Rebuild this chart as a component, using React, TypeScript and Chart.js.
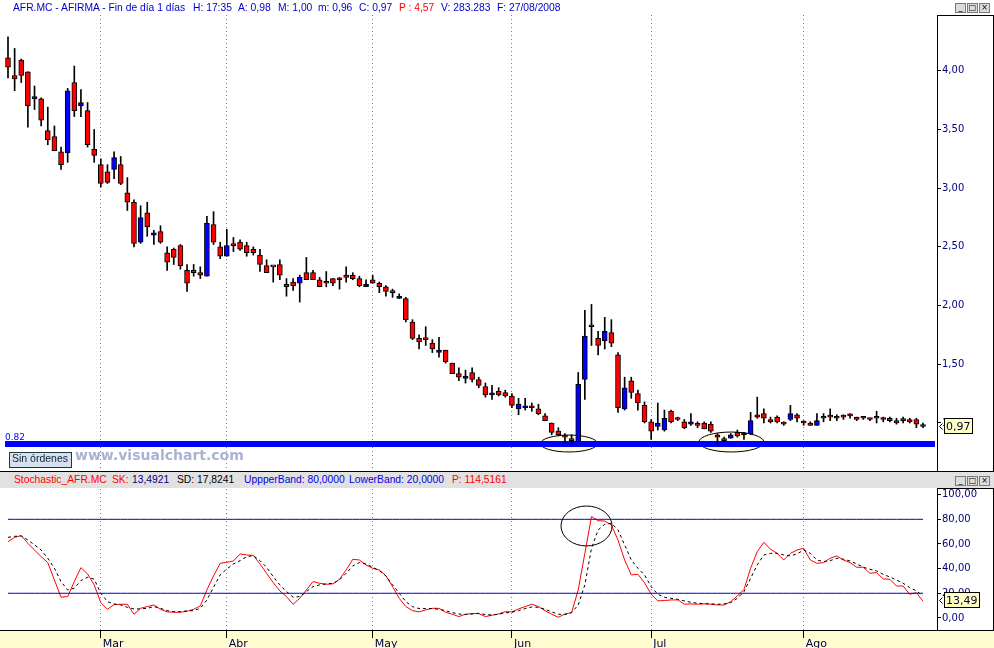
import React, { useEffect, useRef } from 'react';
import { Chart, registerables } from 'chart.js';

Chart.register(...registerables);

// ---- Daily candles AFR.MC (index 0 = first bar shown, mid-February 2008) ----
const opens = [
  4.11, 3.96, 4.09, 3.99, 3.76, 3.76, 3.49, 3.44, 3.31, 3.30,
  3.90, 3.70, 3.66, 3.33, 3.20, 3.14, 3.16, 3.20, 2.96, 2.88,
  2.54, 2.79, 2.60, 2.63, 2.45, 2.48, 2.51, 2.30, 2.30, 2.28,
  2.25, 2.69, 2.50, 2.42, 2.51, 2.54, 2.51, 2.48, 2.43, 2.34,
  2.33, 2.35, 2.18, 2.20, 2.19, 2.28, 2.28, 2.22, 2.19, 2.23,
  2.22, 2.26, 2.26, 2.23, 2.16, 2.22, 2.19, 2.16, 2.11, 2.06,
  2.06, 1.86, 1.72, 1.71, 1.68, 1.60, 1.62, 1.51, 1.42, 1.38,
  1.43, 1.37, 1.31, 1.24, 1.27, 1.26, 1.23, 1.12, 1.13, 1.13,
  1.12, 1.06, 1.00, 0.93, 0.88, 0.85, 0.84, 1.37, 1.82, 1.72,
  1.70, 1.77, 1.58, 1.12, 1.36, 1.25, 1.15, 1.01, 0.97, 0.94,
  1.10, 1.03, 1.01, 0.99, 0.98, 1.00, 0.99, 0.90, 0.85, 0.87,
  0.92, 0.90, 0.91, 1.07, 1.08, 1.03, 1.05, 0.99, 1.03, 1.07,
  1.00, 1.00, 0.98, 1.04, 1.05, 1.04, 1.05, 1.06, 1.05, 1.04,
  1.03, 1.04, 1.03, 1.04, 1.02, 1.02, 1.03, 1.03, 0.98,
];
const highs = [
  4.29, 4.19, 4.10, 3.99, 3.87, 3.77, 3.69, 3.53, 3.35, 3.85,
  4.04, 3.84, 3.73, 3.50, 3.25, 3.20, 3.31, 3.27, 3.09, 2.90,
  2.85, 2.88, 2.64, 2.68, 2.50, 2.49, 2.52, 2.35, 2.35, 2.33,
  2.76, 2.80, 2.54, 2.65, 2.58, 2.56, 2.54, 2.50, 2.48, 2.39,
  2.33, 2.39, 2.23, 2.23, 2.26, 2.41, 2.30, 2.24, 2.29, 2.23,
  2.24, 2.33, 2.28, 2.25, 2.22, 2.26, 2.20, 2.17, 2.14, 2.10,
  2.07, 1.88, 1.75, 1.82, 1.71, 1.73, 1.62, 1.51, 1.47, 1.45,
  1.47, 1.39, 1.34, 1.32, 1.30, 1.28, 1.25, 1.21, 1.21, 1.17,
  1.16, 1.08, 1.00, 0.96, 0.91, 0.90, 1.43, 1.96, 2.01, 1.78,
  1.90, 1.88, 1.60, 1.39, 1.39, 1.28, 1.18, 1.03, 1.17, 1.11,
  1.11, 1.05, 1.03, 1.08, 1.01, 1.01, 1.01, 0.91, 0.88, 0.91,
  0.94, 0.92, 1.09, 1.22, 1.12, 1.05, 1.06, 1.01, 1.15, 1.08,
  1.02, 1.01, 1.08, 1.08, 1.12, 1.07, 1.07, 1.08, 1.05, 1.05,
  1.04, 1.10, 1.05, 1.05, 1.04, 1.05, 1.04, 1.04, 1.00,
];
const lows = [
  3.94, 3.83, 3.90, 3.52, 3.67, 3.53, 3.37, 3.32, 3.16, 3.22,
  3.61, 3.61, 3.35, 3.22, 3.01, 3.04, 3.08, 3.03, 2.81, 2.50,
  2.53, 2.59, 2.52, 2.53, 2.30, 2.35, 2.31, 2.12, 2.25, 2.23,
  2.25, 2.52, 2.40, 2.42, 2.46, 2.47, 2.42, 2.43, 2.29, 2.28,
  2.20, 2.22, 2.08, 2.13, 2.03, 2.22, 2.22, 2.16, 2.16, 2.17,
  2.14, 2.20, 2.22, 2.16, 2.16, 2.19, 2.11, 2.08, 2.07, 2.06,
  1.86, 1.71, 1.63, 1.66, 1.60, 1.56, 1.51, 1.42, 1.36, 1.34,
  1.35, 1.30, 1.22, 1.20, 1.23, 1.22, 1.13, 1.07, 1.11, 1.10,
  1.07, 1.02, 0.90, 0.89, 0.83, 0.82, 0.84, 1.20, 1.66, 1.58,
  1.63, 1.65, 1.09, 1.11, 1.21, 1.11, 1.00, 0.86, 0.94, 0.93,
  1.00, 1.02, 0.95, 0.98, 0.96, 0.95, 0.92, 0.82, 0.84, 0.87,
  0.88, 0.86, 0.90, 1.04, 1.00, 1.00, 1.00, 0.98, 1.02, 1.01,
  0.98, 0.98, 0.98, 1.01, 1.02, 1.02, 1.03, 1.04, 1.02, 1.03,
  1.02, 1.00, 1.01, 1.01, 0.99, 1.00, 1.00, 0.96, 0.96,
];
const closes = [
  4.03, 3.93, 3.96, 3.70, 3.78, 3.58, 3.41, 3.32, 3.20, 3.83,
  3.66, 3.73, 3.37, 3.28, 3.04, 3.05, 3.26, 3.04, 2.88, 2.53,
  2.75, 2.67, 2.62, 2.54, 2.37, 2.41, 2.34, 2.19, 2.28, 2.26,
  2.70, 2.54, 2.42, 2.51, 2.51, 2.48, 2.45, 2.45, 2.35, 2.28,
  2.33, 2.26, 2.16, 2.17, 2.24, 2.22, 2.22, 2.16, 2.19, 2.19,
  2.22, 2.24, 2.23, 2.17, 2.18, 2.19, 2.16, 2.12, 2.11, 2.08,
  1.88, 1.72, 1.69, 1.71, 1.63, 1.62, 1.52, 1.42, 1.39, 1.40,
  1.37, 1.32, 1.24, 1.25, 1.24, 1.23, 1.15, 1.16, 1.14, 1.13,
  1.08, 1.02, 0.92, 0.90, 0.88, 0.85, 1.33, 1.74, 1.82, 1.66,
  1.78, 1.68, 1.13, 1.30, 1.26, 1.17, 1.01, 0.93, 1.00, 1.04,
  1.01, 1.03, 0.96, 1.01, 0.98, 0.95, 0.93, 0.88, 0.85, 0.90,
  0.89, 0.91, 1.02, 1.05, 1.04, 1.01, 1.01, 0.99, 1.08, 1.04,
  1.00, 0.98, 1.02, 1.04, 1.05, 1.04, 1.05, 1.06, 1.03, 1.04,
  1.03, 1.04, 1.03, 1.02, 1.00, 1.02, 1.01, 0.99, 0.97,
];

// ---- Stochastic (SK red, SD black dashed) ----
const stochK = [
  61.9, 65.4, 66.8, 60.5, 55.1, 49.7, 44.9, 30.8, 16.8, 17.3,
  29.5, 40.8, 35.7, 26.8, 12.4, 7.0, 10.8, 11.1, 11.1, 3.0,
  7.8, 9.2, 10.5, 7.0, 4.9, 4.6, 4.6, 5.4, 7.0, 9.7,
  22.7, 34.1, 44.3, 45.1, 46.2, 51.9, 51.1, 50.8, 43.8, 36.2,
  28.6, 21.9, 17.3, 11.1, 15.9, 22.7, 29.5, 28.1, 27.3, 27.6,
  31.4, 38.9, 47.6, 47.0, 43.0, 40.3, 38.9, 34.1, 25.4, 15.9,
  9.2, 5.9, 4.9, 6.5, 7.8, 7.8, 4.6, 3.0, 1.1, 3.0,
  3.5, 3.5, 1.1, 2.2, 3.2, 5.1, 4.9, 7.3, 9.2, 11.1,
  9.2, 5.9, 3.0, 0.5, 3.2, 4.3, 22.7, 52.4, 82.2, 78.9,
  78.6, 75.4, 63.2, 47.0, 34.9, 35.4, 28.6, 19.2, 13.8, 14.1,
  14.6, 14.6, 11.1, 11.4, 11.1, 11.4, 11.1, 10.5, 10.5, 13.2,
  17.8, 23.2, 40.3, 53.8, 61.4, 55.7, 52.4, 47.0, 52.4, 55.1,
  56.5, 47.0, 44.3, 44.9, 48.4, 50.3, 47.0, 44.9, 41.1, 41.1,
  36.2, 36.8, 31.6, 31.4, 25.9, 25.9, 19.2, 20.5, 13.49,
];
const stochD = [
  65.4, 66.2, 66.5, 63.2, 59.2, 55.1, 48.4, 40.3, 29.5, 22.7,
  24.1, 30.3, 33.0, 31.4, 20.0, 13.2, 11.4, 10.5, 8.6, 7.3,
  7.3, 7.8, 9.2, 7.8, 5.9, 5.1, 5.1, 5.7, 5.9, 7.8,
  14.6, 24.9, 34.9, 39.7, 43.8, 46.5, 49.7, 50.5, 46.5, 41.1,
  33.5, 26.8, 21.4, 16.8, 17.3, 21.4, 25.4, 26.8, 27.6, 28.1,
  30.8, 36.2, 42.2, 44.9, 43.8, 41.1, 38.4, 34.1, 26.8, 20.0,
  13.2, 9.2, 7.6, 7.6, 7.6, 7.0, 5.9, 4.3, 3.2, 2.7,
  3.2, 3.8, 2.7, 2.4, 3.0, 4.1, 4.6, 5.9, 7.6, 8.9,
  8.6, 7.0, 4.9, 3.0, 2.7, 4.3, 10.5, 26.8, 56.5, 71.4,
  76.0, 76.8, 71.4, 59.2, 47.0, 40.3, 34.9, 25.4, 19.2, 16.8,
  15.9, 15.1, 13.8, 12.7, 11.9, 11.6, 11.4, 11.1, 11.4, 12.4,
  15.9, 21.4, 32.2, 43.0, 51.1, 52.4, 52.4, 51.1, 50.3, 51.9,
  55.1, 52.4, 47.0, 45.7, 46.5, 48.4, 47.6, 46.2, 43.8, 41.1,
  39.5, 38.1, 35.4, 33.2, 30.8, 28.1, 24.6, 21.9, 17.82,
];

const priceTicks = [1.0, 1.5, 2.0, 2.5, 3.0, 3.5, 4.0];
const stochTicks = [0, 20, 40, 60, 80, 100];
const monthStartIndex = [14, 33, 55, 76, 97, 120];
const monthLabels = ['Mar', 'Abr', 'May', 'Jun', 'Jul', 'Ago'];
const supportLevel = 0.82;
const supportFrom = -0.45;
const supportTo = 139.8;
const upperBand = 80;
const lowerBand = 20;

// annotation ellipses, in data units (index, value)
const priceCircles = [
  { x: 84.6, y: 0.825, rx: 4.3, ry: 0.072 },
  { x: 109.1, y: 0.838, rx: 4.9, ry: 0.085 },
];
const stochCircles = [{ x: 87.25, y: 74.6, rx: 3.85, ry: 16.2 }];

const fmt2 = (v: number) => Number(v).toFixed(2).replace('.', ',');

const X_MIN = -1.2066;
const X_MAX = 140.11;

const ellipsePlugin = (id: string, shapes: any[], fill: string | null, stage: string) => ({
  id,
  [stage](chart: any) {
    const { ctx, scales } = chart;
    const x = scales.x, y = scales.y;
    ctx.save();
    shapes.forEach((s) => {
      const cx = x.getPixelForValue(s.x);
      const cy = y.getPixelForValue(s.y);
      const rx = Math.abs(x.getPixelForValue(s.x + s.rx) - cx);
      const ry = Math.abs(y.getPixelForValue(s.y + s.ry) - cy);
      ctx.beginPath();
      ctx.ellipse(cx, cy, rx, ry, 0, 0, Math.PI * 2);
      if (fill) {
        ctx.fillStyle = fill;
        ctx.fill();
      }
      ctx.lineWidth = 1;
      ctx.strokeStyle = '#000000';
      ctx.stroke();
    });
    ctx.restore();
  },
});

const supportLabelPlugin = {
  id: 'supportLabel',
  afterDatasetsDraw(chart: any) {
    const { ctx, scales, chartArea } = chart;
    const py = scales.y.getPixelForValue(supportLevel);
    ctx.save();
    ctx.font = '9px "DejaVu Sans"';
    ctx.fillStyle = '#0000ff';
    ctx.textBaseline = 'alphabetic';
    ctx.fillText(supportLevel.toFixed(2), chartArea.left + 5, py - 4);
    ctx.restore();
  },
};

const lastValuePlugin = (id: string, value: number, text: string) => ({
  id,
  afterDraw(chart: any) {
    const { ctx, scales, chartArea } = chart;
    const py = Math.round(scales.y.getPixelForValue(value));
    const x0 = Math.round(chartArea.right) + 7;
    ctx.save();
    ctx.font = '11px "DejaVu Sans"';
    const w = Math.ceil(ctx.measureText(text).width) + 4;
    ctx.fillStyle = '#ffffc0';
    ctx.fillRect(x0, py - 9, w, 16);
    ctx.strokeStyle = '#000000';
    ctx.lineWidth = 1;
    ctx.strokeRect(x0 + 0.5, py - 8.5, w - 1, 15);
    ctx.fillStyle = '#000040';
    ctx.textBaseline = 'middle';
    ctx.fillText(text, x0 + 2, py);
    ctx.beginPath();
    ctx.moveTo(x0 - 1.5, py - 3.5);
    ctx.lineTo(x0 - 4.5, py - 0.5);
    ctx.lineTo(x0 - 1.5, py + 2.5);
    ctx.stroke();
    ctx.restore();
  },
});

const yellowBandPlugin = {
  id: 'yellowBand',
  beforeDraw(chart: any) {
    const { ctx, chartArea, width, height } = chart;
    ctx.save();
    ctx.fillStyle = '#fffcd2';
    ctx.fillRect(0, chartArea.bottom, width, height - chartArea.bottom);
    ctx.restore();
  },
};

const HDR_FONT = '"Liberation Sans", Arial, sans-serif';

function Txt({ left, top, color, children, size = 10.3, weight = 400, family = HDR_FONT }: any) {
  return (
    <span
      style={{
        position: 'absolute', left, top, color, whiteSpace: 'pre',
        fontFamily: family, fontSize: size, fontWeight: weight, lineHeight: 'normal',
      }}
    >
      {children}
    </span>
  );
}

function WinButtons({ top }: any) {
  const box = (left: number, glyph: string) => (
    <div
      style={{
        position: 'absolute', left, top, width: 11, height: 10, boxSizing: 'border-box',
        border: '1px solid #7a7a7a', background: '#dcdcdc', color: '#000',
        fontFamily: 'DejaVu Sans', fontSize: 8, lineHeight: '7px', textAlign: 'center', overflow: 'hidden',
      }}
    >
      {glyph}
    </div>
  );
  return (
    <>
      {box(955, '_')}
      {box(967, '□')}
      {box(979, '×')}
    </>
  );
}

export default function App() {
  const topRef = useRef<HTMLCanvasElement>(null);
  const botRef = useRef<HTMLCanvasElement>(null);

  useEffect(() => {
    const idx = opens.map((_, i) => i);
    const bodyColors = idx.map((i) => (closes[i] > opens[i] ? '#0000ff' : '#ff0000'));
    const axisFont = { family: 'DejaVu Sans', size: 10 };

    const top = new Chart(topRef.current as HTMLCanvasElement, {
      type: 'bar',
      data: {
        datasets: [
          {
            type: 'line',
            data: [{ x: supportFrom, y: supportLevel }, { x: supportTo, y: supportLevel }],
            borderColor: '#0000ff', borderWidth: 6, pointRadius: 0, borderCapStyle: 'butt', order: 3,
          },
          {
            type: 'bar',
            data: idx.map((i) => ({ x: i, y: [lows[i], highs[i]] })),
            backgroundColor: '#000000', borderWidth: 0, barThickness: 1, grouped: false, order: 2,
          },
          {
            type: 'bar',
            data: idx.map((i) => ({ x: i, y: [opens[i], closes[i]] })),
            backgroundColor: bodyColors, borderColor: '#000000', borderWidth: 1, borderSkipped: false,
            barThickness: 5, minBarLength: 2, grouped: false, order: 1,
          },
        ] as any,
      },
      options: {
        animation: false, responsive: false, events: [],
        layout: { padding: { top: 15, bottom: 1, left: 0, right: 0 } },
        plugins: { legend: { display: false }, tooltip: { enabled: false } },
        scales: {
          x: {
            type: 'linear', min: X_MIN, max: X_MAX, offset: false,
            afterBuildTicks: (s: any) => { s.ticks = monthStartIndex.map((v) => ({ value: v })); },
            afterFit: (s: any) => { s.height = 0; s.paddingLeft = 0; s.paddingRight = 0; },
            ticks: { display: false },
            grid: { offset: false, drawTicks: false, color: '#808080', lineWidth: 1 },
            border: { display: false, dash: [1, 3] },
          },
          y: {
            position: 'right', min: 0.591, max: 4.475,
            afterBuildTicks: (s: any) => { s.ticks = priceTicks.map((v) => ({ value: v })); },
            afterFit: (s: any) => { s.width = 57; s.paddingTop = 0; s.paddingBottom = 0; },
            ticks: { callback: (v: any) => fmt2(v), color: '#000080', font: axisFont, padding: 1 },
            grid: { drawOnChartArea: false, drawTicks: true, tickLength: 4, tickColor: '#000000' },
            border: { display: false },
          },
        } as any,
      } as any,
      plugins: [
        ellipsePlugin('priceCircles', priceCircles, '#fffce6', 'beforeDatasetsDraw'),
        supportLabelPlugin,
        lastValuePlugin('lastPrice', closes[closes.length - 1], fmt2(closes[closes.length - 1])),
      ] as any,
    });

    const bot = new Chart(botRef.current as HTMLCanvasElement, {
      type: 'line',
      data: {
        datasets: [
          { data: idx.map((i) => ({ x: i, y: upperBand })), borderColor: '#0000c8', borderWidth: 1, pointRadius: 0 },
          { data: idx.map((i) => ({ x: i, y: lowerBand })), borderColor: '#0000c8', borderWidth: 1, pointRadius: 0 },
          { data: idx.map((i) => ({ x: i, y: stochD[i] })), borderColor: '#000000', borderWidth: 1, borderDash: [3, 3], pointRadius: 0 },
          { data: idx.map((i) => ({ x: i, y: stochK[i] })), borderColor: '#ff0000', borderWidth: 1, pointRadius: 0 },
        ] as any,
      },
      options: {
        animation: false, responsive: false, events: [],
        layout: { padding: 0 },
        plugins: { legend: { display: false }, tooltip: { enabled: false } },
        scales: {
          x: {
            type: 'linear', min: X_MIN, max: X_MAX, offset: false,
            afterBuildTicks: (s: any) => { s.ticks = monthStartIndex.map((v) => ({ value: v })); },
            afterFit: (s: any) => { s.height = 18; s.paddingLeft = 0; s.paddingRight = 0; },
            ticks: {
              callback: (_v: any, i: number) => monthLabels[i], align: 'start', labelOffset: 2, padding: 0,
              color: '#000040', font: { family: 'DejaVu Sans', size: 11 }, maxRotation: 0, minRotation: 0, autoSkip: false,
            },
            grid: {
              offset: false, color: '#808080', lineWidth: 1, drawTicks: true, tickLength: 8,
              tickColor: '#000000', tickWidth: 1, tickBorderDash: [],
            },
            border: { display: false, dash: [1, 3] },
          },
          y: {
            position: 'right', min: -9.8, max: 104.6,
            afterBuildTicks: (s: any) => { s.ticks = stochTicks.map((v) => ({ value: v })); },
            afterFit: (s: any) => { s.width = 57; s.paddingTop = 0; s.paddingBottom = 0; },
            ticks: { callback: (v: any) => fmt2(v), color: '#000080', font: axisFont, padding: 1 },
            grid: { drawOnChartArea: false, drawTicks: true, tickLength: 4, tickColor: '#000000' },
            border: { display: false },
          },
        } as any,
      } as any,
      plugins: [
        yellowBandPlugin,
        ellipsePlugin('stochCircles', stochCircles, null, 'afterDatasetsDraw'),
        lastValuePlugin('lastK', stochK[stochK.length - 1], fmt2(stochK[stochK.length - 1])),
      ] as any,
    });

    return () => {
      top.destroy();
      bot.destroy();
    };
  }, []);

  return (
    <div style={{ position: 'absolute', left: 0, top: 0, width: 994, height: 648, overflow: 'hidden', background: '#ffffff' }}>
      <canvas ref={topRef} width={994} height={472} style={{ position: 'absolute', left: 0, top: 0, display: 'block' }} />
      <canvas ref={botRef} width={994} height={159} style={{ position: 'absolute', left: 0, top: 489, display: 'block' }} />

      {/* header of price window */}
      <Txt left={13} top={2} color="#0000c8">AFR.MC - AFIRMA - Fin de día 1 días</Txt>
      <Txt left={193} top={2} color="#0000c8">H: 17:35</Txt>
      <Txt left={238} top={2} color="#0000c8">A: 0,98</Txt>
      <Txt left={278} top={2} color="#0000c8">M: 1,00</Txt>
      <Txt left={318} top={2} color="#0000c8">m: 0,96</Txt>
      <Txt left={359} top={2} color="#0000c8">C: 0,97</Txt>
      <Txt left={399} top={2} color="#ff0000">P : 4,57</Txt>
      <Txt left={441} top={2} color="#0000c8">V: 283.283</Txt>
      <Txt left={497} top={2} color="#0000c8">F: 27/08/2008</Txt>
      <WinButtons top={3} />

      {/* right axis frames and separators */}
      <div style={{ position: 'absolute', left: 937, top: 15, width: 57, height: 457, boxSizing: 'border-box', borderLeft: '1px solid #000', borderRight: '1px solid #000', borderTop: '1px solid #000' }} />
      <div style={{ position: 'absolute', left: 0, top: 471, width: 994, height: 1, background: '#000' }} />
      <div style={{ position: 'absolute', left: 0, top: 472, width: 994, height: 16, background: '#e1e1e1' }} />
      <div style={{ position: 'absolute', left: 937, top: 488, width: 57, height: 143, boxSizing: 'border-box', borderLeft: '1px solid #000', borderRight: '1px solid #000', borderTop: '1px solid #000' }} />
      <div style={{ position: 'absolute', left: 0, top: 630, width: 994, height: 1, background: '#000' }} />

      {/* stochastic header */}
      <Txt left={14} top={474} color="#ff0000">Stochastic_AFR.MC</Txt>
      <Txt left={112} top={474} color="#ff0000">SK:</Txt>
      <Txt left={132} top={474} color="#000080">13,4921</Txt>
      <Txt left={177} top={474} color="#000000">SD: 17,8241</Txt>
      <Txt left={244} top={474} color="#0000e0">UppperBand: 80,0000</Txt>
      <Txt left={349} top={474} color="#0000e0">LowerBand: 20,0000</Txt>
      <Txt left={452} top={474} color="#ff0000">P: 114,5161</Txt>
      <WinButtons top={476} />

      {/* order button and watermark */}
      <div style={{ position: 'absolute', left: 9, top: 452, width: 63, height: 16, boxSizing: 'border-box', border: '1px solid #1f3a3a', background: '#d5e1ec' }} />
      <Txt left={12} top={452} color="#10203a" size={10.5}>Sin órdenes</Txt>
      <Txt left={75} top={447} color="#aab4d2" size={14} weight={700} family='"DejaVu Sans", sans-serif'>www.visualchart.com</Txt>
    </div>
  );
}
